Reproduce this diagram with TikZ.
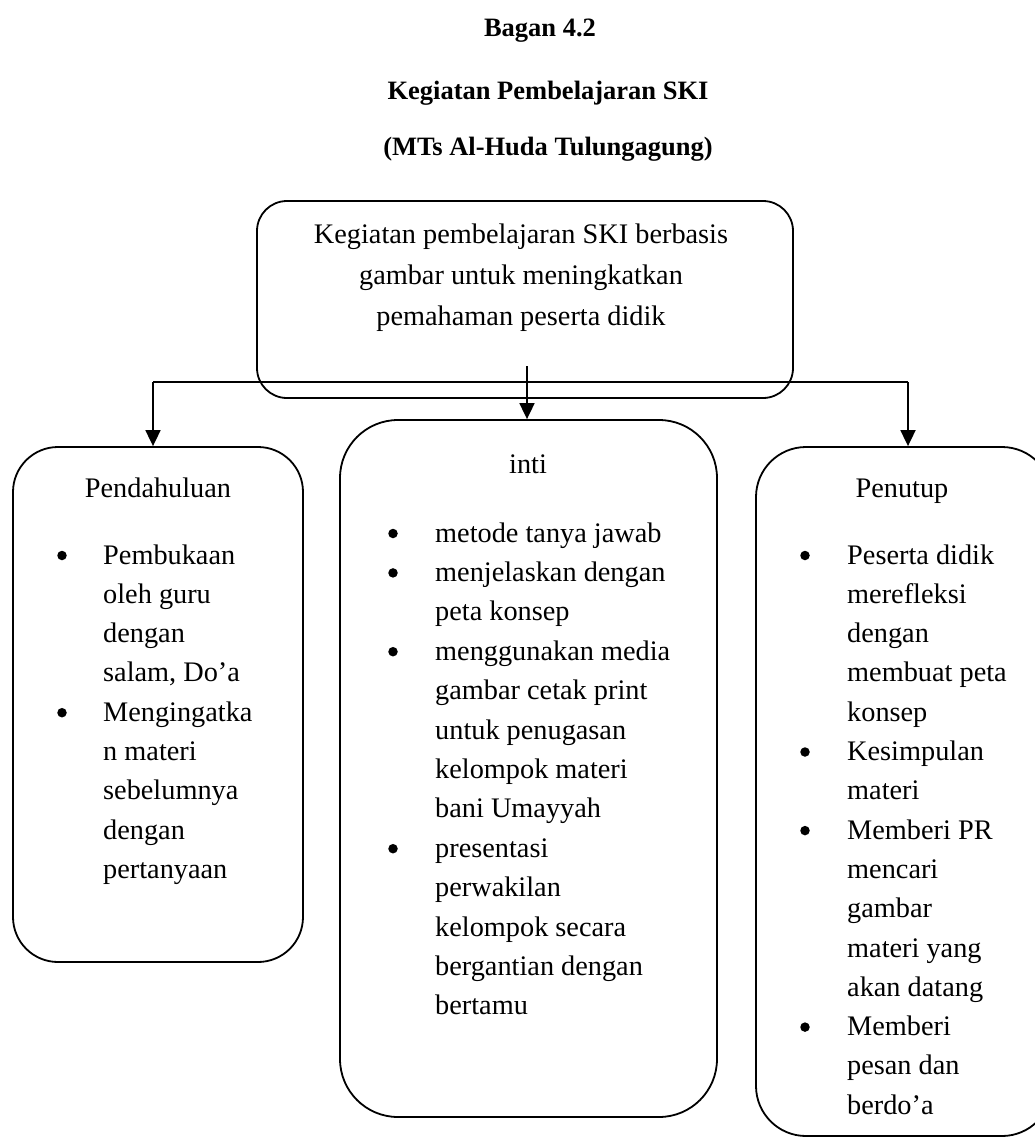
\documentclass[tikz,border=0pt]{standalone}
\usepackage{fontspec}
\setmainfont{Liberation Serif}
\usetikzlibrary{arrows.meta}
\newcommand\bodyfont{\fontsize{28.3}{34}\selectfont}
\newcommand\titlefont{\fontsize{26.5}{30}\selectfont\bfseries}
% one line of text per node, stacked down from a first baseline
\newcommand\stacklines[5]{% #1 name prefix, #2 x, #3 first baseline, #4 line step, #5 lines
  \foreach \ln [count=\i from 0] in {#5}{%
    \node[txt] (#1\i) at (#2,{#3+\i*#4}) {\ln};
  }%
}
% list bullet sitting on a given baseline
\newcommand\bulletat[3]{\node[dot] (#1) at (#2,{#3-8.5}) {};}
\begin{document}
\begin{tikzpicture}[x=1pt,y=-1pt,
  box/.style={draw, line width=1.8pt, rounded corners=#1, inner sep=0pt},
  txt/.style={anchor=base west, inner sep=0pt, font=\bodyfont},
  ctxt/.style={anchor=base, inner sep=0pt, font=\bodyfont},
  ttl/.style={anchor=base, inner sep=0pt, font=\titlefont},
  dot/.style={circle, fill=black, inner sep=0pt, minimum size=9.5pt},
  link/.style={line width=1.8pt},
  arr/.style={line width=1.8pt, -{Triangle[length=16pt,width=15pt]}}
]
\useasboundingbox[fill=white] (0,0) rectangle (1034,1138);

% heading
\node[ttl] (t1) at (540,36) {Bagan 4.2};
\node[ttl] (t2) at (548,99) {Kegiatan Pembelajaran SKI};
\node[ttl] (t3) at (548,155) {(MTs Al-Huda Tulungagung)};

% boxes
\node[box=30pt, minimum width=536pt, minimum height=197pt] (top) at (525,299.5) {};
\node[box=45pt, minimum width=290pt, minimum height=515pt] (left) at (158,704.5) {};
\node[box=58pt, minimum width=377pt, minimum height=697pt] (mid) at (528.5,768.5) {};
\node[box=50pt, minimum width=296pt, minimum height=689pt] (right) at (904,791.5) {};

% main box text
\node[ctxt] (top1) at (521,243) {Kegiatan pembelajaran SKI berbasis};
\node[ctxt] (top2) at (521,284) {gambar untuk meningkatkan};
\node[ctxt] (top3) at (521,325) {pemahaman peserta didik};

% connectors
\coordinate (la) at (153,382);
\coordinate (ra) at (908,382);
\coordinate (ma) at (527,366);
\draw[link] (la) -- (ra);
\draw[arr] (la) -- (la |- left.north);
\draw[arr] (ra) -- (ra |- right.north);
\draw[arr] (ma) -- (ma |- mid.north);

% Pendahuluan
\node[ctxt] (lh) at (158,497) {Pendahuluan};
\bulletat{lb1}{62}{564}
\bulletat{lb2}{62}{721.2}
\stacklines{l}{103}{564}{39.3}{Pembukaan,oleh guru,dengan,{salam, Do’a},Mengingatka,n materi,sebelumnya,dengan,pertanyaan}

% inti
\node[ctxt] (mh) at (528,473) {inti};
\bulletat{mb1}{393}{542}
\bulletat{mb2}{393}{581.4}
\bulletat{mb3}{393}{660.2}
\bulletat{mb4}{393}{857.2}
\stacklines{m}{435}{542}{39.4}{metode tanya jawab,menjelaskan dengan,peta konsep,menggunakan media,gambar cetak print,untuk penugasan,kelompok materi,bani Umayyah,presentasi,perwakilan,kelompok secara,bergantian dengan,bertamu}

% Penutup
\node[ctxt] (rh) at (902,497) {Penutup};
\bulletat{rb1}{805}{564}
\bulletat{rb2}{805}{760.5}
\bulletat{rb3}{805}{839.1}
\bulletat{rb4}{805}{1035.6}
\stacklines{r}{847}{564}{39.3}{Peserta didik,merefleksi,dengan,membuat peta,konsep,Kesimpulan,materi,Memberi PR,mencari,gambar,materi yang,akan datang,Memberi,pesan dan,berdo’a}
\end{tikzpicture}
\end{document}
